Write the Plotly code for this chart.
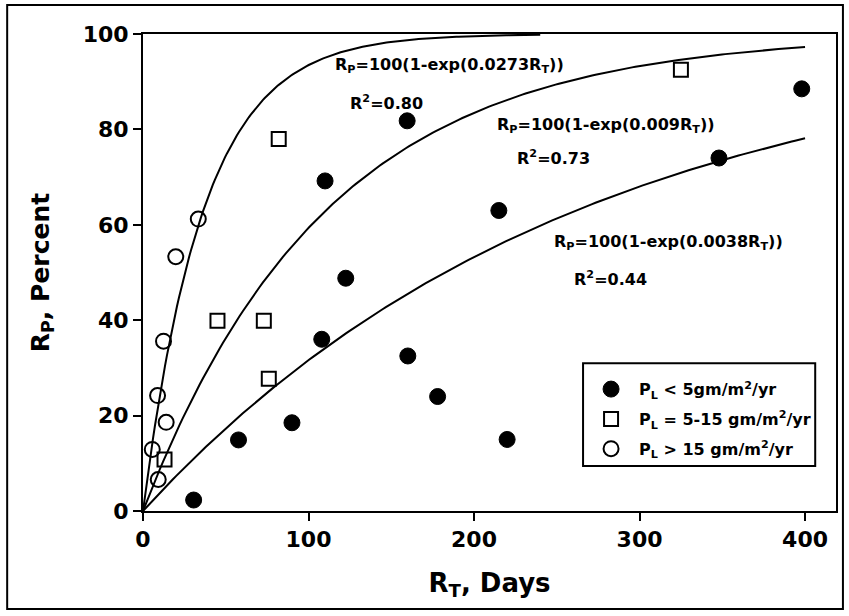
import numpy as np
import plotly.graph_objects as go

# ---- data ----
filled_x = [30.6, 57.7, 90, 108, 110, 122.5, 159.6, 160, 178, 215, 220, 348, 398]
filled_y = [2.3, 14.9, 18.5, 36, 69.2, 48.8, 81.8, 32.5, 24, 63, 15, 74, 88.5]
square_x = [13, 45, 73, 76, 82, 325]
square_y = [10.8, 39.9, 39.9, 27.7, 78, 92.5]
open_x = [5.6, 9.2, 8.8, 12.4, 14, 19.8, 33.4]
open_y = [12.9, 6.6, 24.2, 35.6, 18.6, 53.3, 61.2]

# fitted model coefficients (R_P = 100(1-exp(-k R_T))) and their drawn extents
fit_k = [0.0273, 0.009, 0.0038]
fit_xmax = [240, 400, 400]
fit_labels = ["0.0273", "0.009", "0.0038"]
fit_r2 = ["0.80", "0.73", "0.44"]

x_ticks = [0, 100, 200, 300, 400]
y_ticks = [0, 20, 40, 60, 80, 100]

FONT = "DejaVu Sans, sans-serif"

fig = go.Figure()

for k, xm in zip(fit_k, fit_xmax):
    xs = np.linspace(0, xm, 200)
    fig.add_trace(go.Scatter(x=xs, y=100 * (1 - np.exp(-k * xs)), mode="lines",
                             line=dict(color="black", width=2), showlegend=False,
                             hoverinfo="skip", cliponaxis=False))

fig.add_trace(go.Scatter(x=filled_x, y=filled_y, mode="markers",
                         name="P<sub>L</sub> &lt; 5gm/m<sup>2</sup>/yr", legendgroup="a",
                         marker=dict(symbol="circle", size=16, color="black",
                                     line=dict(color="black", width=1))))
fig.add_trace(go.Scatter(x=square_x, y=square_y, mode="markers",
                         name="P<sub>L</sub> = 5-15 gm/m<sup>2</sup>/yr", legendgroup="b",
                         marker=dict(symbol="square-open", size=14, color="black",
                                     line=dict(color="black", width=2))))
fig.add_trace(go.Scatter(x=open_x, y=open_y, mode="markers",
                         name="P<sub>L</sub> &gt; 15 gm/m<sup>2</sup>/yr", legendgroup="c",
                         marker=dict(symbol="circle-open", size=15, color="black",
                                     line=dict(color="black", width=2))))

ann_pos = [(114.8, 93.5, 123.9, 85.7), (212.7, 80.9, 224.8, 74.2), (247.1, 56.2, 259.2, 48.8)]
annotations = []
for (ex, ey, rx, ry), kl, r2 in zip(ann_pos, fit_labels, fit_r2):
    annotations.append(dict(x=ex, y=ey, xref="x", yref="y", xanchor="left", yanchor="middle",
                            showarrow=False,
                            text=f"R<sub>P</sub>=100(1-exp({kl}R<sub>T</sub>))",
                            font=dict(family=FONT, size=16, color="black", weight="bold")))
    annotations.append(dict(x=rx, y=ry, xref="x", yref="y", xanchor="left", yanchor="middle",
                            showarrow=False, text=f"R<sup>2</sup>={r2}",
                            font=dict(family=FONT, size=16, color="black", weight="bold")))

fig.update_layout(
    width=849, height=616,
    margin=dict(l=143, r=13, t=34, b=105),
    paper_bgcolor="white", plot_bgcolor="white",
    font=dict(family=FONT, color="black", weight="bold"),
    showlegend=True,
    legend=dict(x=0.635, y=0.291, xanchor="left", yanchor="top",
                borderwidth=0, bgcolor="rgba(0,0,0,0)",
                font=dict(family=FONT, size=16, color="black", weight="bold"),
                tracegroupgap=6, itemwidth=46, traceorder="grouped"),
    annotations=annotations,
    shapes=[
        dict(type="rect", xref="paper", yref="paper", x0=-0.196, x1=1.010,
             y0=-0.2055, y1=1.0608, line=dict(color="black", width=2)),
        dict(type="rect", xref="paper", yref="paper", x0=0.635, x1=0.970,
             y0=0.0943, y1=0.310, line=dict(color="black", width=2),
             fillcolor="white", layer="below"),
    ],
)

fig.update_xaxes(range=[0, 418.7], tickvals=x_ticks, ticks="outside", ticklen=8, tickwidth=2,
                 tickcolor="black", showline=True, linecolor="black", linewidth=2, mirror=True,
                 showgrid=False, zeroline=False,
                 tickfont=dict(family=FONT, size=22, color="black", weight="bold"),
                 title=dict(text="R<sub>T</sub>, Days", standoff=22,
                            font=dict(family=FONT, size=26, color="black", weight="bold")))
fig.update_yaxes(range=[0, 100], tickvals=y_ticks, ticks="outside", ticklen=8, tickwidth=2,
                 tickcolor="black", showline=True, linecolor="black", linewidth=2, mirror=True,
                 showgrid=False, zeroline=False,
                 tickfont=dict(family=FONT, size=22, color="black", weight="bold"),
                 title=dict(text="R<sub>P</sub>, Percent", standoff=26,
                            font=dict(family=FONT, size=25, color="black", weight="bold")))

fig.write_html("out.html")
